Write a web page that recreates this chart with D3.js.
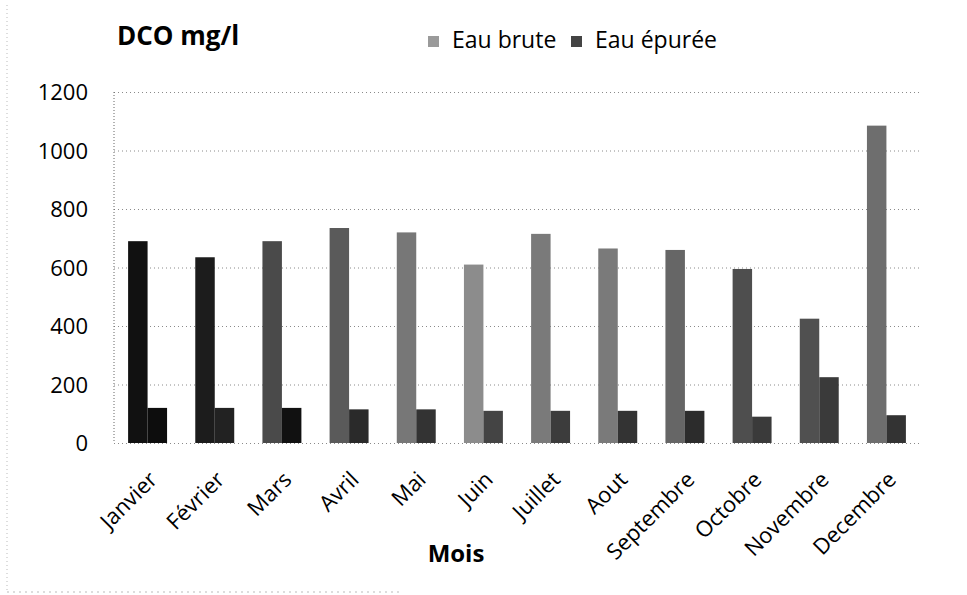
<!DOCTYPE html>
<html>
<head>
<meta charset="utf-8">
<script src="https://cdn.jsdelivr.net/npm/d3@7"></script>
<style>
  body { margin: 0; background: #fff; }
  text { font-family: "Open Sans", Lato, sans-serif; fill: #000; }
</style>
</head>
<body>
<div id="chart"></div>
<script>
// data
var mois = ["Janvier", "Février", "Mars", "Avril", "Mai", "Juin", "Juillet", "Aout", "Septembre", "Octobre", "Novembre", "Decembre"];
var eauBrute = [690, 635, 690, 735, 720, 610, 715, 665, 660, 595, 425, 1085];
var eauEpuree = [120, 120, 120, 115, 115, 110, 110, 110, 110, 90, 225, 95];
var yTicks = [0, 200, 400, 600, 800, 1000, 1200];

// shades of the scan, one per month
var shadeBrute = ["#111", "#1c1c1c", "#4a4a4a", "#5a5a5a", "#777", "#8c8c8c", "#7a7a7a", "#7a7a7a", "#666", "#4e4e4e", "#505050", "#6e6e6e"];
var shadeEpuree = ["#0d0d0d", "#222", "#111", "#2a2a2a", "#333", "#444", "#3c3c3c", "#333", "#2c2c2c", "#3a3a3a", "#3a3a3a", "#333"];

function drawChart(){

    var width = 967, height = 595;
    var left = 114, right = 920, top = 92, bottom = 443;

    var svg = d3.select("#chart")
        .append("svg")
        .attr("width", width)
        .attr("height", height);

    //scales
    var x = d3.scaleBand()
        .domain(mois)
        .range([left, right])
        .paddingInner(0.42)
        .paddingOuter(0.21);

    var y = d3.scaleLinear()
        .domain([0, 1200])
        .range([bottom, top]);

    //outer frame of the scan (faint dotted)
    svg.append("line")
        .attr("x1", 7).attr("x2", 7).attr("y1", 5).attr("y2", 592)
        .attr("stroke", "#bbb").attr("stroke-dasharray", "1,3");
    svg.append("line")
        .attr("x1", 7).attr("x2", 400).attr("y1", 592).attr("y2", 592)
        .attr("stroke", "#bbb").attr("stroke-dasharray", "2,4");

    //gridlines
    var grid = svg.append("g")
        .attr("class", "grid")
        .attr("transform", "translate(" + left + ",0)")
        .call(d3.axisLeft(y).tickValues(yTicks).tickSize(-(right - left)).tickFormat(""));
    grid.select(".domain").remove();
    grid.selectAll("line")
        .attr("stroke", "#8a8a8a")
        .attr("stroke-width", 1)
        .attr("stroke-dasharray", "1,3");

    //vertical axis line (dotted)
    svg.append("line")
        .attr("x1", left).attr("x2", left)
        .attr("y1", y(1200)).attr("y2", y(0))
        .attr("stroke", "#666")
        .attr("stroke-dasharray", "1,2");

    //y tick labels
    var yAxis = svg.append("g")
        .attr("transform", "translate(" + (left - 26) + ",0)")
        .call(d3.axisLeft(y).tickValues(yTicks).tickSize(0).tickPadding(0).tickFormat(d3.format("d")));
    yAxis.select(".domain").remove();
    yAxis.selectAll("text")
        .style("font-size", "22px")
        .attr("dy", "0.35em");

    //bars
    var inner = d3.scaleBand()
        .domain(["brute", "epuree"])
        .range([0, x.bandwidth()]);

    var groups = svg.selectAll(".mois")
        .data(mois)
        .enter()
        .append("g")
        .attr("class", "mois")
        .attr("transform", function(d){ return "translate(" + x(d) + ",0)"; });

    groups.append("rect")
        .attr("class", "brute")
        .attr("x", inner("brute"))
        .attr("width", inner.bandwidth())
        .attr("y", function(d, i){ return y(eauBrute[i]); })
        .attr("height", function(d, i){ return y(0) - y(eauBrute[i]); })
        .attr("fill", function(d, i){ return shadeBrute[i]; });

    groups.append("rect")
        .attr("class", "epuree")
        .attr("x", inner("epuree"))
        .attr("width", inner.bandwidth())
        .attr("y", function(d, i){ return y(eauEpuree[i]); })
        .attr("height", function(d, i){ return y(0) - y(eauEpuree[i]); })
        .attr("fill", function(d, i){ return shadeEpuree[i]; });

    //x labels, rotated
    svg.selectAll(".xlab")
        .data(mois)
        .enter()
        .append("text")
        .attr("class", "xlab")
        .attr("text-anchor", "end")
        .style("font-size", "22px")
        .attr("transform", function(d){
            return "translate(" + (x(d) + x.bandwidth() / 2 + 11) + ",481) rotate(-45)";
        })
        .text(function(d){ return d; });

    //titles
    svg.append("text")
        .attr("x", 117).attr("y", 45)
        .style("font-size", "26px")
        .style("font-weight", "bold")
        .text("DCO mg/l");

    svg.append("text")
        .attr("x", 456).attr("y", 562)
        .attr("text-anchor", "middle")
        .style("font-size", "24px")
        .style("font-weight", "bold")
        .text("Mois");

    //legend
    var legend = [["Eau brute", "#9a9a9a", 428], ["Eau épurée", "#444", 571]];
    var lg = svg.selectAll(".legend")
        .data(legend)
        .enter()
        .append("g")
        .attr("class", "legend")
        .attr("transform", function(d){ return "translate(" + d[2] + ",36)"; });
    lg.append("rect")
        .attr("width", 11).attr("height", 11)
        .attr("fill", function(d){ return d[1]; });
    lg.append("text")
        .attr("x", 24).attr("y", 12)
        .style("font-size", "23px")
        .text(function(d){ return d[0]; });
}

window.onload = drawChart();
</script>
</body>
</html>
